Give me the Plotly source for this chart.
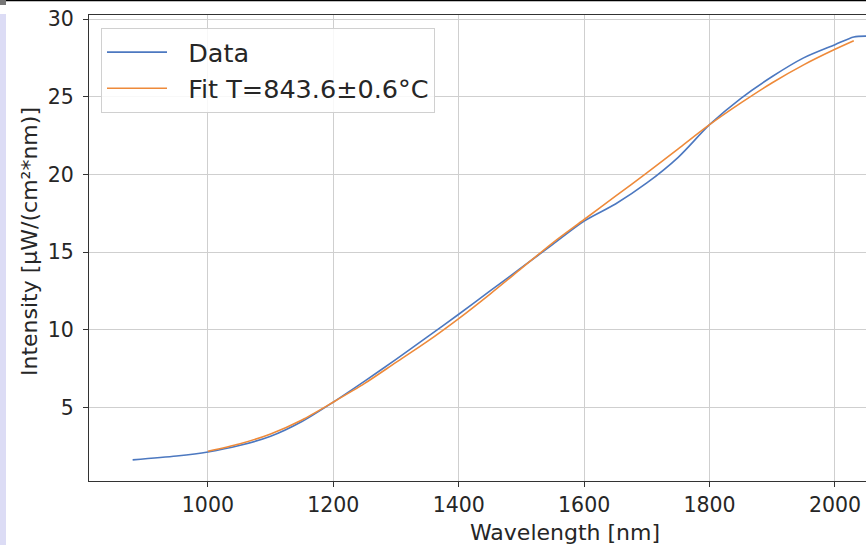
import plotly.graph_objects as go

# ---- data ----
wl_data = [880, 950, 1000, 1050, 1100, 1150, 1200, 1250, 1300, 1350, 1400, 1450, 1500,
           1550, 1600, 1650, 1700, 1750, 1800, 1850, 1900, 1950, 2000, 2030, 2050]
int_data = [1.63, 1.88, 2.14, 2.55, 3.15, 4.1, 5.35, 6.7, 8.1, 9.55, 11.0, 12.5, 14.0,
            15.5, 17.0, 18.1, 19.45, 21.1, 23.2, 24.9, 26.3, 27.5, 28.35, 28.85, 28.9]

wl_fit = [1000, 1050, 1100, 1150, 1200, 1250, 1300, 1350, 1400, 1450, 1500, 1550, 1600,
          1650, 1700, 1750, 1800, 1850, 1900, 1950, 2000, 2030]
int_fit = [2.18, 2.65, 3.3, 4.2, 5.35, 6.55, 7.9, 9.25, 10.72, 12.3, 13.95, 15.6, 17.1,
           18.6, 20.1, 21.65, 23.2, 24.6, 25.9, 27.05, 28.05, 28.6]

series_names = ["Data", "Fit T=843.6±0.6°C"]
x_ticks = [1000, 1200, 1400, 1600, 1800, 2000]
y_ticks = [5, 10, 15, 20, 25, 30]

W, H = 866, 545
L, T, B = 89, 15, 64
PW, PH = W - L, H - T - B

def px(xp):
    return (xp - L) / PW

def py(yp):
    return 1 - (yp - T) / PH

FONT = "DejaVu Sans"
TXT = "#262626"
BLUE = "#4c78c0"
ORANGE = "#ee8a3a"
PAD = "\u00a0\u00a0"  # visual gap between legend line sample and label

fig = go.Figure()
fig.add_trace(go.Scatter(x=wl_data, y=int_data, mode="lines", name=PAD + series_names[0],
                         line=dict(color=BLUE, width=1.6, shape="spline", smoothing=0.8)))
fig.add_trace(go.Scatter(x=wl_fit, y=int_fit, mode="lines", name=PAD + series_names[1],
                         line=dict(color=ORANGE, width=1.6, shape="spline", smoothing=0.8)))

axis_common = dict(showgrid=True, gridcolor="#cfcfcf", gridwidth=1,
                   showline=True, linecolor="#333333", linewidth=1,
                   ticks="outside", ticklen=5, tickcolor="#333333", tickwidth=1,
                   tickfont=dict(family=FONT, size=20.5, color=TXT),
                   zeroline=False)

fig.update_xaxes(range=[810.4, 2049.5], tickvals=x_ticks, mirror=True, **axis_common)
fig.update_yaxes(range=[0.27, 30.26], tickvals=y_ticks, ticklabelstandoff=5, **axis_common)

shapes = [
    # screenshot artefacts: top black edge, corner and lavender strip
    dict(type="rect", xref="paper", yref="paper", x0=px(6), x1=px(W), y0=py(1.2), y1=py(0),
         fillcolor="#000000", line=dict(width=0), layer="above"),
    dict(type="rect", xref="paper", yref="paper", x0=px(0), x1=px(6), y0=py(5), y1=py(0),
         fillcolor="#777777", line=dict(width=0), layer="above"),
    dict(type="rect", xref="paper", yref="paper", x0=px(0), x1=px(6), y0=py(H), y1=py(14),
         fillcolor="#dcdcf5", line=dict(width=0), layer="above"),
]

annotations = [
    dict(text="Wavelength [nm]", xref="paper", yref="paper", x=px(565), y=py(532),
         xanchor="center", yanchor="middle", showarrow=False,
         font=dict(family=FONT, size=22, color=TXT)),
    dict(text="Intensity [µW/(cm²*nm)]", xref="paper", yref="paper", x=px(30), y=py(242),
         xanchor="center", yanchor="middle", showarrow=False, textangle=-90,
         font=dict(family=FONT, size=22, color=TXT)),
]

fig.update_layout(
    width=W, height=H,
    margin=dict(l=L, r=0, t=T, b=B),
    paper_bgcolor="white", plot_bgcolor="white",
    shapes=shapes, annotations=annotations,
    legend=dict(x=px(101), y=py(28), xanchor="left", yanchor="top",
                bgcolor="rgba(255,255,255,0.85)", bordercolor="#d0d0d0", borderwidth=1,
                font=dict(family=FONT, size=25.5, color=TXT),
                itemwidth=60),
    showlegend=True,
)

fig.write_html("out.html")
